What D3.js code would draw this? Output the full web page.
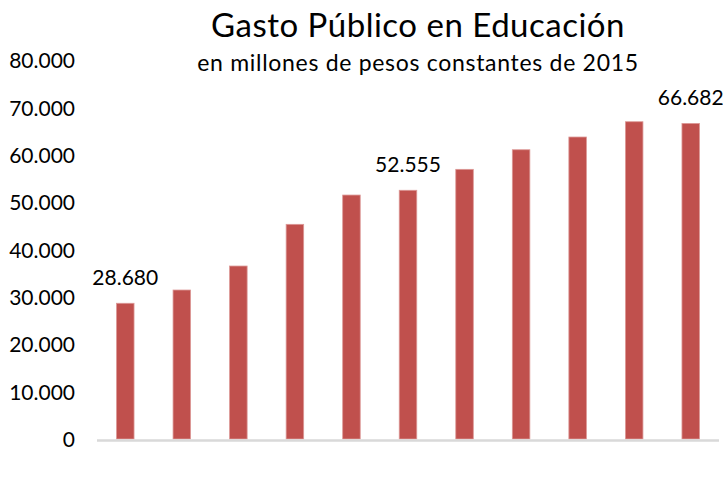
<!DOCTYPE html>
<html>
<head>
<meta charset="utf-8">
<script src="https://cdn.jsdelivr.net/npm/d3@7"></script>
<style>
  html, body { margin: 0; padding: 0; background: #fff; }
  svg { display: block; font-family: Lato, "Open Sans", sans-serif; }
</style>
</head>
<body>
<svg id="chart" width="723" height="502"></svg>
<script>
// ---- data ----
const categories = ["1", "2", "3", "4", "5", "6", "7", "8", "9", "10", "11"];
const values = [28680, 31480, 36550, 45360, 51550, 52555, 56980, 61120, 63810, 67040, 66682];
const labelledIndices = [0, 5, 10];
const yTicks = [0, 10000, 20000, 30000, 40000, 50000, 60000, 70000, 80000];
const titleText = "Gasto Público en Educación";
const subtitleText = "en millones de pesos constantes de 2015";

// ---- layout ----
const svg = d3.select("#chart");
const plotLeft = 97, plotRight = 719, plotTop = 60.4, plotBottom = 439;

const fmt = v => d3.format(",")(v).replace(/,/g, ".");

const x = d3.scaleBand()
  .domain(categories)
  .range([plotLeft, plotRight])
  .paddingInner(0.69)
  .paddingOuter(0.345);

const y = d3.scaleLinear()
  .domain([0, 80000])
  .range([plotBottom, plotTop]);

// y axis labels (no line, no ticks)
const yAxis = d3.axisLeft(y)
  .tickValues(yTicks)
  .tickFormat(fmt)
  .tickSize(0)
  .tickPadding(0);

const gy = svg.append("g")
  .attr("transform", "translate(75,0)")
  .call(yAxis);
gy.select(".domain").remove();
gy.selectAll("text")
  .attr("fill", "#000")
  .attr("font-size", 21)
  .attr("font-family", "Lato, sans-serif")
  .attr("dy", "0.36em");

// bars
svg.append("g").selectAll("rect")
  .data(values)
  .join("rect")
  .attr("x", (d, i) => x(categories[i]))
  .attr("width", x.bandwidth())
  .attr("y", d => y(d))
  .attr("height", d => y(0) - y(d))
  .attr("fill", "#C0504D")
  .attr("stroke", "#dc9896")
  .attr("stroke-width", 0.8);

// baseline axis
const xAxis = d3.axisBottom(x).tickSize(0).tickFormat("");
const gx = svg.append("g")
  .attr("transform", `translate(0,${y(0) + 1.5})`)
  .call(xAxis);
gx.select(".domain")
  .attr("stroke", "#d9d9d9")
  .attr("stroke-width", 2.5)
  .attr("d", `M${plotLeft},0H${plotRight}`);

// data labels
svg.append("g").selectAll("text")
  .data(labelledIndices)
  .join("text")
  .attr("x", i => x(categories[i]) + x.bandwidth() / 2)
  .attr("y", i => y(values[i]) - 18)
  .attr("text-anchor", "middle")
  .attr("font-size", 21)
  .attr("fill", "#000")
  .text(i => fmt(values[i]));

// title
svg.append("text")
  .attr("x", 418)
  .attr("y", 37)
  .attr("text-anchor", "middle")
  .attr("font-size", 33)
  .attr("letter-spacing", 0.5)
  .attr("fill", "#000")
  .text(titleText);

svg.append("text")
  .attr("x", 418)
  .attr("y", 71)
  .attr("text-anchor", "middle")
  .attr("font-size", 23)
  .attr("letter-spacing", 0.7)
  .attr("fill", "#000")
  .text(subtitleText);
</script>
</body>
</html>
